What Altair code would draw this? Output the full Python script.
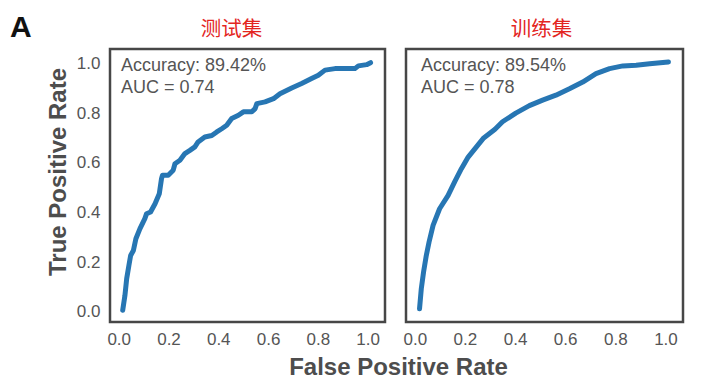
import altair as alt
import pandas as pd

# ---- data ----
test_fpr = [0.016, 0.025, 0.032, 0.041, 0.048, 0.059, 0.069, 0.085, 0.105, 0.112, 0.128, 0.146,
            0.163, 0.172, 0.176, 0.199, 0.219, 0.226, 0.246, 0.266, 0.286, 0.306, 0.319, 0.346,
            0.374, 0.394, 0.414, 0.434, 0.454, 0.481, 0.501, 0.535, 0.548, 0.555, 0.588, 0.622,
            0.648, 0.695, 0.735, 0.775, 0.802, 0.829, 0.869, 0.949, 0.963, 0.996, 1.012]
test_tpr = [0.006, 0.066, 0.133, 0.187, 0.227, 0.247, 0.294, 0.334, 0.375, 0.395, 0.402, 0.435,
            0.475, 0.536, 0.550, 0.550, 0.570, 0.596, 0.610, 0.637, 0.650, 0.664, 0.684, 0.704,
            0.710, 0.724, 0.737, 0.751, 0.778, 0.791, 0.805, 0.805, 0.818, 0.838, 0.845, 0.858,
            0.878, 0.901, 0.919, 0.939, 0.952, 0.973, 0.979, 0.979, 0.990, 0.995, 1.003]

train_fpr = [0.019, 0.026, 0.035, 0.046, 0.057, 0.073, 0.099, 0.133, 0.159, 0.186, 0.213, 0.246,
             0.275, 0.320, 0.350, 0.403, 0.457, 0.510, 0.563, 0.617, 0.670, 0.723, 0.777, 0.830,
             0.883, 0.937, 0.990, 1.012]
train_tpr = [0.012, 0.093, 0.160, 0.227, 0.281, 0.348, 0.415, 0.469, 0.523, 0.576, 0.623, 0.664,
             0.700, 0.735, 0.765, 0.800, 0.830, 0.852, 0.872, 0.898, 0.925, 0.959, 0.979, 0.990,
             0.993, 0.999, 1.004, 1.006]

panel_titles = ["测试集", "训练集"]
accuracy_labels = ["Accuracy: 89.42%", "Accuracy: 89.54%"]
auc_labels = ["AUC = 0.74", "AUC = 0.78"]
tick_values = [0.0, 0.2, 0.4, 0.6, 0.8, 1.0]

X_DOMAIN = [-0.035, 1.07]
Y_DOMAIN = [-0.041, 1.058]
LINE_COLOR = "#2776b3"
TEXT_GRAY = "#555555"
FONT = "Liberation Sans"


def panel(fpr, tpr, title, acc, auc, width, show_y, extra_text):
    df = pd.DataFrame({"fpr": fpr, "tpr": tpr, "idx": list(range(len(fpr)))})
    y_axis = alt.Axis(values=tick_values, format=".1f", ticks=False, domain=False, grid=False,
                      labelPadding=10, labelFont=FONT, labelFontSize=17, labelColor=TEXT_GRAY,
                      title=None) if show_y else None
    base = alt.Chart(df)
    line = base.mark_line(color=LINE_COLOR, strokeWidth=5, strokeCap="round",
                          strokeJoin="round").encode(
        x=alt.X("fpr:Q", scale=alt.Scale(domain=X_DOMAIN, nice=False, zero=False),
                axis=alt.Axis(values=tick_values, format=".1f", ticks=False, domain=False,
                              grid=False, labelPadding=9, labelFont=FONT, labelFontSize=17,
                              labelColor=TEXT_GRAY, title=None)),
        y=alt.Y("tpr:Q", scale=alt.Scale(domain=Y_DOMAIN, nice=False, zero=False), axis=y_axis),
        order="idx:Q",
    )
    tdf = pd.DataFrame({"t": [title]})
    ttl = alt.Chart(tdf).mark_text(font="Noto Sans CJK SC", fontSize=20.5, color="#e3261f",
                                   align="center", baseline="alphabetic").encode(
        text="t:N", x=alt.value(width / 2 - (16 if show_y else 3)), y=alt.value(-13))
    adf = pd.DataFrame({"t": [acc, auc], "yy": [22, 44]})
    ann = alt.Chart(adf).mark_text(font=FONT, fontSize=18, color=TEXT_GRAY, align="left",
                                   baseline="alphabetic").encode(
        text="t:N", x=alt.value(11 if show_y else 15), y=alt.Y("yy:Q", scale=None, axis=None))
    layers = [line, ttl, ann] + extra_text
    return alt.layer(*layers).properties(width=width, height=273)


extra_left = [
    alt.Chart(pd.DataFrame({"t": ["A"]})).mark_text(font=FONT, fontSize=30, fontWeight="bold",
                                                    color="#111111", align="left",
                                                    baseline="alphabetic").encode(
        text="t:N", x=alt.value(-100), y=alt.value(-12)),
    alt.Chart(pd.DataFrame({"t": ["True Positive Rate"]})).mark_text(
        font=FONT, fontSize=24, fontWeight="bold", color="#4d4d4d", align="center",
        baseline="middle", angle=270).encode(
        text="t:N", x=alt.value(-51.5), y=alt.value(123)),
    alt.Chart(pd.DataFrame({"t": ["False Positive Rate"]})).mark_text(
        font=FONT, fontSize=24, fontWeight="bold", color="#4d4d4d", align="center",
        baseline="alphabetic").encode(
        text="t:N", x=alt.value(288.5), y=alt.value(326)),
]

left = panel(test_fpr, test_tpr, panel_titles[0], accuracy_labels[0], auc_labels[0], 275, True,
             extra_left)
right = panel(train_fpr, train_tpr, panel_titles[1], accuracy_labels[1], auc_labels[1], 277,
              False, [])

chart = alt.hconcat(left, right, spacing=21, bounds="flush").properties(
    padding={"left": 0, "top": 3, "right": 10, "bottom": 0},
    background="white",
).configure_view(
    stroke="#474747", strokeWidth=2.5
).configure_axis(
    labelFont=FONT, labelFontSize=17, labelColor=TEXT_GRAY
)

chart.save("out.html", embed_options={"renderer": "svg", "actions": False})
